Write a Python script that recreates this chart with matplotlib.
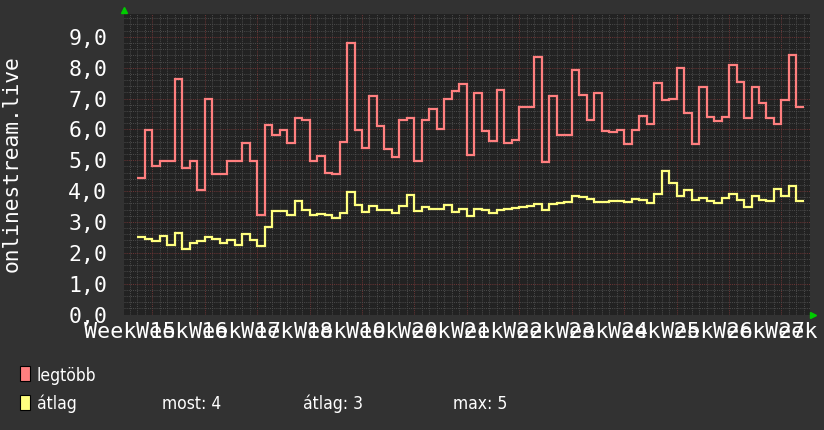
import matplotlib
matplotlib.use('Agg')
import matplotlib.pyplot as plt
import numpy as np
from matplotlib import font_manager
from matplotlib.patches import Rectangle
from matplotlib.ticker import MultipleLocator, FuncFormatter


# daily values, one per day
legtobb = [4.43, 5.98, 4.82, 4.98, 4.98, 7.63, 4.75, 4.98, 4.02, 6.98,
           4.56, 4.56, 4.98, 4.98, 5.55, 4.98, 3.24, 6.14, 5.83, 5.98,
           5.56, 6.36, 6.29, 4.98, 5.13, 4.59, 4.55, 5.58, 8.81, 5.98,
           5.39, 7.08, 6.10, 5.37, 5.11, 6.29, 6.36, 4.98, 6.31, 6.67,
           6.01, 6.98, 7.24, 7.46, 5.16, 7.19, 5.95, 5.63, 7.27, 5.56,
           5.66, 6.72, 6.72, 8.35, 4.94, 7.08, 5.81, 5.81, 7.92, 7.13,
           6.31, 7.19, 5.95, 5.92, 5.98, 5.53, 5.98, 6.44, 6.18, 7.51,
           6.96, 6.99, 7.98, 6.52, 5.53, 7.39, 6.41, 6.26, 6.39, 8.08,
           7.52, 6.36, 7.39, 6.87, 6.36, 6.17, 6.96, 8.41, 6.72]

atlag = [2.51, 2.46, 2.39, 2.53, 2.24, 2.64, 2.11, 2.33, 2.38, 2.50,
         2.46, 2.33, 2.40, 2.24, 2.60, 2.42, 2.21, 2.84, 3.35, 3.35,
         3.22, 3.67, 3.38, 3.24, 3.26, 3.24, 3.13, 3.29, 3.96, 3.56,
         3.32, 3.52, 3.39, 3.39, 3.29, 3.52, 3.86, 3.35, 3.50, 3.43,
         3.43, 3.55, 3.33, 3.43, 3.19, 3.43, 3.38, 3.29, 3.38, 3.41,
         3.44, 3.48, 3.52, 3.57, 3.38, 3.57, 3.62, 3.65, 3.84, 3.81,
         3.73, 3.65, 3.65, 3.68, 3.68, 3.65, 3.73, 3.70, 3.61, 3.90,
         4.64, 4.26, 3.83, 4.03, 3.70, 3.76, 3.68, 3.61, 3.79, 3.91,
         3.70, 3.48, 3.84, 3.70, 3.68, 4.06, 3.84, 4.17, 3.68]

week_labels = ['Week %d' % w for w in range(15, 29)]
legend_stats = ['most: 4', 'átlag: 3', 'max: 5']

#===================================

BG = '#323232'
CANVAS = '#222222'
RED = '#ff7f7f'
YELLOW = '#ffff7f'
mono = 'DejaVu Sans Mono'

# legend text in the reference is a tall narrow face; use one if installed
names = {f.name for f in font_manager.fontManager.ttflist}
condensed = [f for f in font_manager.fontManager.ttflist
             if f.name == 'DejaVu Sans' and f.stretch == 'condensed']
legend_kw = dict(family='DejaVu Sans', fontsize=11)
if 'Liberation Sans Narrow' in names:
    legend_kw = dict(family='Liberation Sans Narrow', fontsize=15)
elif condensed:
    legend_kw = dict(family='DejaVu Sans', fontstretch='condensed', fontsize=12.5)

W, H = 824, 430
fig = plt.figure(figsize=(W / 100, H / 100), dpi=100, facecolor=BG)
# plot area in pixels: x 124..810, y 14..314.5
ax = fig.add_axes([124 / W, (H - 314.5) / H, 686 / W, 300.5 / H])
ax.set_facecolor(CANVAS)

edges = np.arange(len(legtobb) + 1)
ax.stairs(legtobb, edges, baseline=None, color=RED, linewidth=1.6, zorder=3)
ax.stairs(atlag, edges, baseline=None, color=YELLOW, linewidth=1.6, zorder=3)

ax.set_xlim(-1.776, 89.81)
ax.set_ylim(0, 9.74)

# grid: one minor line per day, major line per week; 0.2 / 1.0 on y
ax.xaxis.set_major_locator(MultipleLocator(7, offset=2))
ax.xaxis.set_minor_locator(MultipleLocator(1))
ax.yaxis.set_major_locator(MultipleLocator(1))
ax.yaxis.set_minor_locator(MultipleLocator(0.2))
ax.grid(which='minor', color='#4c4c4c', linestyle=(0, (1, 1.2)), linewidth=0.7)
ax.grid(which='major', color='#703636', linestyle=(0, (1, 1.2)), linewidth=0.7)
ax.set_axisbelow(True)

ax.yaxis.set_major_formatter(FuncFormatter(lambda v, p: ('%.1f' % v).replace('.', ',')))
ax.set_xticklabels([])
ax.tick_params(which='both', length=0)
ax.tick_params(axis='y', pad=12, labelcolor='white', labelsize=15.5)
for lab in ax.get_yticklabels():
    lab.set_family(mono)
for s in ax.spines.values():
    s.set_visible(False)

# week labels are centred one day before the week grid line
for j, lab in enumerate(week_labels):
    ax.text(-1 + 7 * j, -23 / 300.5, lab, transform=ax.get_xaxis_transform(),
            ha='center', va='baseline', color='white', family=mono,
            fontsize=15.7, clip_on=False)

fig.text(12 / W, 1 - 164 / H, 'onlinestream.live', rotation=90, ha='center',
         va='center', color='white', family=mono, fontsize=15.3)

# little green arrows at the axis ends
ax.plot([0], [1.012], marker='^', color='#00cc00', markersize=4.5,
        transform=ax.transAxes, clip_on=False)
ax.plot([1.005], [0], marker='>', color='#00cc00', markersize=4.5,
        transform=ax.transAxes, clip_on=False)

# legend
for (y0, col) in [(366, RED), (395, YELLOW)]:
    fig.patches.append(Rectangle((20 / W, 1 - (y0 + 15) / H), 10 / W, 15 / H,
                                 transform=fig.transFigure, facecolor=col,
                                 edgecolor='black', linewidth=0.8))
fig.text(37 / W, 1 - 381 / H, 'legtöbb', color='white', va='baseline', **legend_kw)
fig.text(37 / W, 1 - 409 / H, 'átlag', color='white', va='baseline', **legend_kw)
for xs, txt in zip([162, 303, 453], legend_stats):
    fig.text(xs / W, 1 - 409 / H, txt, color='white', va='baseline', **legend_kw)

fig.savefig('out.png', dpi=100, facecolor=BG)
